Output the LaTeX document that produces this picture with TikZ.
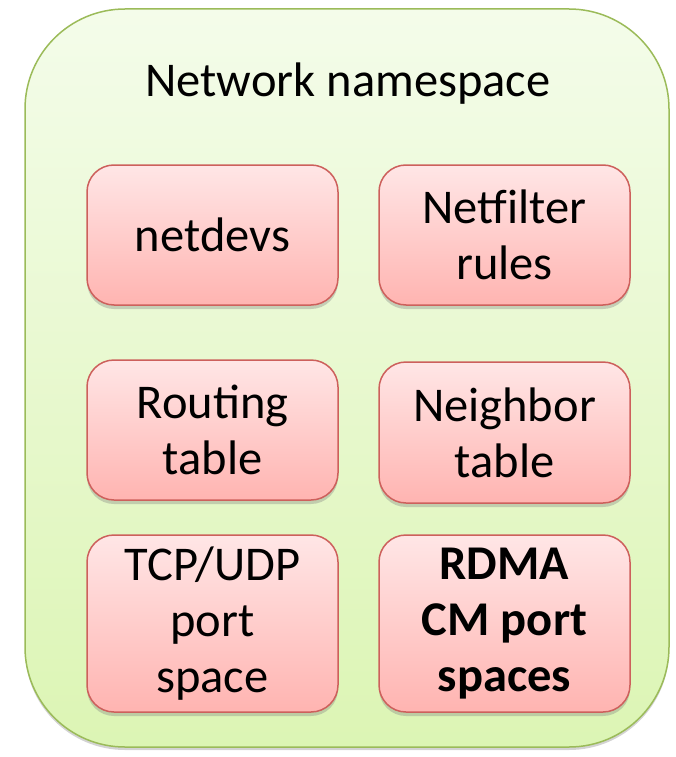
\documentclass[tikz,border=0pt]{standalone}
\usepackage{fontspec}
\setmainfont{Carlito}
\usetikzlibrary{shadows}

\definecolor{nsline}{HTML}{9BBB59}
\definecolor{nstop}{HTML}{F4FCEA}
\definecolor{nsbot}{HTML}{DCF5B4}
\definecolor{boxline}{HTML}{CD605C}
\definecolor{boxtop}{HTML}{FFE6E6}
\definecolor{boxbot}{HTML}{FFB4B1}

\begin{document}
\begin{tikzpicture}[x=1pt, y=-1pt,
	nsbox/.style={draw=nsline, line width=1.5pt, top color=nstop, bottom color=nsbot, rounded corners=100pt, drop shadow={opacity=0.35, shadow xshift=0pt, shadow yshift=-3pt}},
	tblbox/.style={draw=boxline, line width=1.5pt, top color=boxtop, bottom color=boxbot, rounded corners=27pt, drop shadow={opacity=0.35, shadow xshift=0pt, shadow yshift=-4pt}},
	lbl/.style={align=center, font=\fontsize{48.5}{56}\selectfont}]
	\useasboundingbox (0,0) rectangle (675,757);
	
	\path[nsbox] (25,9) rectangle (669,747);
	\node[lbl] (title) at (348,84) {Network namespace};
	
	\path[tblbox] (87,165) rectangle (338,305) node[pos=.5, lbl] (netdevs) {netdevs};
	\path[tblbox] (379,165) rectangle (630,305) node[pos=.5, lbl] (netfilter) {Netfilter\\rules};
	
	\path[tblbox] (87,360) rectangle (338,500) node[pos=.5, lbl] (routing) {Routing\\table};
	\path[tblbox] (379,362) rectangle (630,503) node[pos=.5, lbl] (neighbor) {Neighbor\\table};
	
	\path[tblbox] (87,535) rectangle (338,712) node[pos=.5, lbl] (tcpudp) {TCP/UDP\\port\\space};
	\path[tblbox] (379,535) rectangle (630,712) node[pos=.5, lbl, font=\fontsize{48.5}{56}\selectfont\bfseries] (rdmacm) {RDMA\\CM port\\spaces};

\end{tikzpicture}
\end{document}
